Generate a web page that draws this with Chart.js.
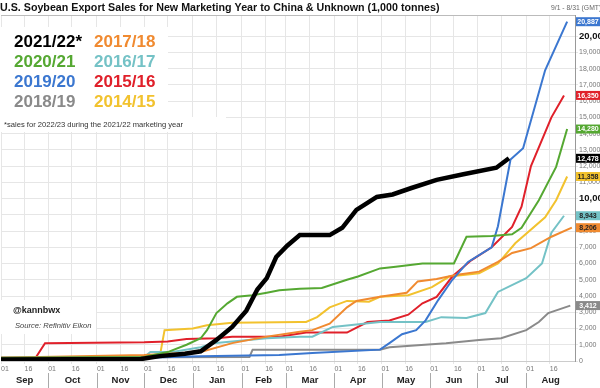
<!DOCTYPE html>
<html><head><meta charset="utf-8">
<script src="https://cdn.jsdelivr.net/npm/chart.js@4.4.1/dist/chart.umd.min.js"></script>
<style>html,body{margin:0;padding:0;background:#fff;overflow:hidden}canvas{display:block}</style>
</head><body>
<canvas id="c" width="600" height="388"></canvas>
<script>
// ---- axis definitions ----
const monthNames = ['Sep','Oct','Nov','Dec','Jan','Feb','Mar','Apr','May','Jun','Jul','Aug'];
const monthDays  = [30,31,30,31,31,28,31,30,31,30,31,31];
const tickDayLabels = ['01','16'];
const yTickStep = 1000;
const yTickMax = 20000;

// ---- series (x = days since Sep 1, y = 1,000 tonnes) ----
const seasons = ['2021/22*','2020/21','2019/20','2018/19','2017/18','2016/17','2015/16','2014/15'];

const days_2122 = [0,89,101,117,127,137,147,156,163,169,175,182,190,209,217,226,239,249,261,277,294,315,323];
const vals_2122 = [100,120,300,450,600,1300,2100,3100,4400,5100,6400,7100,7750,7750,8200,9300,10100,10250,10650,11150,11500,11900,12478];

const days_2021 = [0,91,106,118,127,131,137,144,150,160,169,177,190,204,220,227,241,251,268,288,296,312,325,331,342,353,360];
const vals_2021 = [200,250,550,1000,1400,1900,2950,3550,3950,4050,4200,4350,4450,4500,5000,5200,5700,5800,6000,6000,7650,7700,7800,8200,9900,11950,14280];

const days_1920 = [0,91,127,177,198,241,247,255,264,270,278,287,297,312,316,324,332,346,360];
const vals_1920 = [150,200,300,370,500,700,1100,1650,1900,2500,3750,5000,6100,7000,8300,12400,13100,17900,20887];

const days_1819 = [0,158,160,241,247,283,304,318,334,342,348,354,362];
const vals_1819 = [200,250,700,700,850,1100,1300,1400,1900,2400,2950,3150,3412];

const days_1718 = [0,91,127,147,169,190,198,209,220,226,241,258,265,277,289,304,316,325,337,350,363];
const vals_1718 = [200,370,550,1100,1500,1800,1900,2300,3300,3700,3950,4200,4900,5050,5300,5500,6100,6650,6950,7650,8206];

const days_1617 = [0,91,95,109,127,135,147,169,190,198,211,241,270,280,296,308,316,334,344,350,358];
const vals_1617 = [150,250,550,550,850,1100,1200,1400,1500,1500,2100,2400,2400,2700,2650,2950,4250,5100,6000,7900,8943];

const days_1516 = [0,22,28,91,106,118,137,147,169,177,194,220,233,247,259,268,277,287,299,312,325,331,337,350,358];
const vals_1516 = [200,200,1100,1150,1200,1350,1400,1500,1500,1500,1750,1750,2400,2500,2850,3550,3950,5200,6200,7000,8250,9500,12000,15000,16350];

const days_1415 = [0,95,101,104,122,131,147,190,194,201,209,220,234,241,259,274,285,304,316,327,346,353,360];
const vals_1415 = [150,200,300,1900,2000,2200,2350,2400,2400,2700,3300,3700,3650,3950,4050,4550,5200,5400,6000,7250,8850,9900,11358];

// ---- styling ----
const FONT = "'Liberation Sans', Arial, Helvetica, sans-serif";
const lineColors = ['#000000','#55a832','#3b77d0','#8a8a8a','#f08a30','#74c2c6','#e0202a','#f2c22e'];
const labelTextColors = ['#fff','#fff','#fff','#fff','#222','#222','#fff','#222'];
const seriesDays = [days_2122,days_2021,days_1920,days_1819,days_1718,days_1617,days_1516,days_1415];
const seriesVals = [vals_2122,vals_2021,vals_1920,vals_1819,vals_1718,vals_1617,vals_1516,vals_1415];

const monthStart = []; { let a = 0; for (const d of monthDays) { monthStart.push(a); a += d; } }
const totalDays = monthDays.reduce((a,b)=>a+b,0);

const datasets = seasons.map((s,i)=>({
  label: s,
  data: seriesDays[i].map((d,j)=>({x:d, y:seriesVals[i][j]})),
  borderColor: lineColors[i],
  backgroundColor: lineColors[i],
  borderWidth: i===0 ? 4.5 : 2,
  pointRadius: 0,
  tension: 0,
  fill: false
}));

const fmt = v => Math.round(v).toLocaleString('en-US');

const overlay = {
  id: 'overlay',
  beforeDatasetsDraw(chart) {
    const c = chart.ctx;
    c.save();
    c.fillStyle = '#fff';
    c.fillRect(0, 27, 168, 92);
    c.fillRect(0, 117, 226, 15);
    c.fillRect(0, 300, 96, 34);
    // legend texts
    c.font = 'bold 17px ' + FONT;
    c.textBaseline = 'middle';
    c.textAlign = 'left';
    const rows = [42, 62, 82, 102.5];
    const order = [[0,4],[1,5],[2,6],[3,7]];
    order.forEach((pair,r)=>{
      c.fillStyle = lineColors[pair[0]] === '#8a8a8a' ? '#8a8a8a' : lineColors[pair[0]];
      c.fillText(seasons[pair[0]], 14, rows[r]);
      c.fillStyle = lineColors[pair[1]];
      c.fillText(seasons[pair[1]], 94, rows[r]);
    });
    c.font = '7.6px ' + FONT;
    c.fillStyle = '#333';
    c.fillText('*sales for 2022/23 during the 2021/22 marketing year', 4, 124.5);
    c.font = 'bold 9px ' + FONT;
    c.fillStyle = '#222';
    c.fillText('@kannbwx', 13, 311);
    c.font = 'italic 7.6px ' + FONT;
    c.fillStyle = '#444';
    c.fillText('Source: Refinitiv Eikon', 15, 326);
    c.restore();
  },
  afterDraw(chart) {
    const c = chart.ctx;
    const y = chart.scales.y, x = chart.scales.x;
    const area = chart.chartArea;
    c.save();
    // title
    c.fillStyle = '#fff';
    c.fillRect(0, 0, 600, area.top);
    c.font = 'bold 10.7px ' + FONT;
    c.fillStyle = '#111';
    c.textBaseline = 'middle';
    c.textAlign = 'left';
    c.fillText('U.S. Soybean Export Sales for New Marketing Year to China & Unknown (1,000 tonnes)', 0, 8);
    c.font = '6.8px ' + FONT;
    c.fillStyle = '#666';
    c.fillText('9/1 - 8/31 (GMT)', 551, 8.5);
    // plot top border
    c.strokeStyle = '#bbb';
    c.lineWidth = 1;
    c.beginPath(); c.moveTo(area.left, area.top + 0.5); c.lineTo(area.right, area.top + 0.5); c.stroke();
    // month separators
    c.strokeStyle = '#aaa';
    for (let m = 1; m < monthStart.length; m++) {
      const px = Math.round(x.getPixelForValue(monthStart[m])) + 0.5;
      c.beginPath(); c.moveTo(px, area.bottom + 12); c.lineTo(px, 388); c.stroke();
    }
    // last value boxes
    c.font = 'bold 7px ' + FONT;
    c.textAlign = 'center';
    seasons.forEach((s,i)=>{
      const vals = seriesVals[i];
      const v = vals[vals.length-1];
      const py = y.getPixelForValue(v);
      c.fillStyle = lineColors[i];
      c.fillRect(area.right + 1, py - 4.5, 600 - area.right, 9);
      c.fillStyle = labelTextColors[i];
      c.fillText(fmt(v), area.right + 13, py + 0.5);
    });
    c.restore();
  }
};

new Chart(document.getElementById('c'), {
  type: 'line',
  data: { datasets },
  options: {
    responsive: false,
    animation: false,
    devicePixelRatio: 1,
    layout: { padding: { top: 15, left: 0, right: 0, bottom: 0 } },
    plugins: { legend: { display: false }, tooltip: { enabled: false }, title: { display: false } },
    scales: {
      x: {
        type: 'linear', position: 'bottom', min: 0, max: totalDays,
        afterBuildTicks: s => {
          const t = [];
          monthStart.forEach(ms => { t.push({value: ms}); t.push({value: ms + 15}); });
          s.ticks = t;
        },
        afterFit: s => { s.height = 12; },
        ticks: {
          autoSkip: false, maxRotation: 0, align: 'start', padding: 1,
          font: { family: FONT, size: 7 }, color: '#777',
          callback: (v) => monthStart.includes(v) ? tickDayLabels[0] : tickDayLabels[1]
        },
        grid: { color: '#e6e6e6', tickLength: 3, drawTicks: true },
        border: { display: true, color: '#ccc' }
      },
      x2: {
        type: 'linear', position: 'bottom', min: 0, max: totalDays,
        afterBuildTicks: s => {
          s.ticks = monthStart.map((ms,i) => ({value: ms + monthDays[i]/2}));
        },
        afterFit: s => { s.height = 15; },
        ticks: {
          autoSkip: false, maxRotation: 0, padding: 2,
          font: { family: FONT, size: 9.5, weight: 'bold' }, color: '#222',
          callback: (v, idx) => monthNames[idx]
        },
        grid: { display: false, drawTicks: false },
        border: { display: false }
      },
      y: {
        type: 'linear', position: 'right', min: 0, max: 21300,
        afterBuildTicks: s => {
          const t = [];
          for (let v = 0; v <= yTickMax; v += yTickStep) t.push({value: v});
          s.ticks = t;
        },
        afterFit: s => { s.width = 25; },
        ticks: {
          padding: 1,
          callback: v => fmt(v),
          font: ctx => (ctx.tick && ctx.tick.value % 10000 === 0 && ctx.tick.value > 0)
            ? { family: FONT, size: 9.5, weight: 'bold' } : { family: FONT, size: 7 },
          color: ctx => (ctx.tick && ctx.tick.value % 10000 === 0 && ctx.tick.value > 0) ? '#111' : '#777'
        },
        grid: { color: '#e6e6e6', tickLength: 3 },
        border: { display: true, color: '#999' }
      }
    }
  },
  plugins: [overlay]
});
</script>
</body></html>
